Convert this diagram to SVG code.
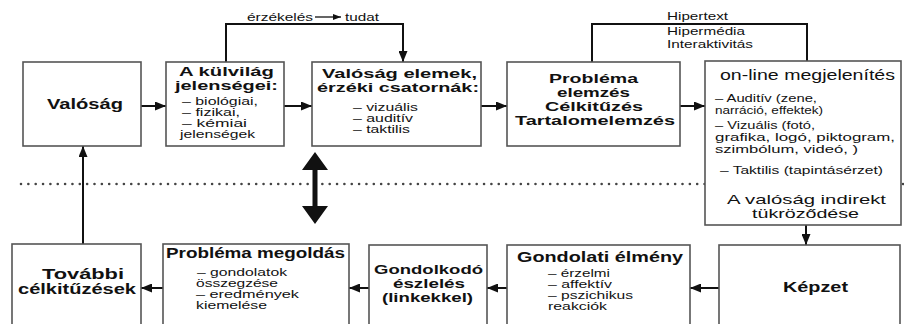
<svg xmlns="http://www.w3.org/2000/svg" width="904" height="324" viewBox="0 0 904 324">
<defs>
<marker id="ah" markerUnits="userSpaceOnUse" markerWidth="11" markerHeight="9" refX="11" refY="4.5" orient="auto">
<path d="M0,0 L11,4.5 L0,9 Z" fill="#111"/>
</marker>
<marker id="ahs" markerUnits="userSpaceOnUse" markerWidth="8" markerHeight="6" refX="8" refY="3" orient="auto">
<path d="M0,0 L8,3 L0,6 Z" fill="#111"/>
</marker>
</defs>
<style>
text{font-family:"Liberation Sans",Arial,sans-serif;fill:#111}
.b{font-weight:bold;font-size:13.5px}
.t{font-size:10.5px}
.s{font-size:10.5px}
.m{font-size:13.5px}
.box{fill:#fff;stroke:#555;stroke-width:1.6}
.c{fill:none;stroke:#111;stroke-width:2}
</style>
<rect width="904" height="324" fill="#fff"/>

<g id="connectors">
<line class="c" x1="141" y1="106" x2="166" y2="106" marker-end="url(#ah)"/>
<line class="c" x1="284" y1="106" x2="312" y2="106" marker-end="url(#ah)"/>
<line class="c" x1="481" y1="106" x2="507" y2="106" marker-end="url(#ah)"/>
<line class="c" x1="680" y1="106" x2="705" y2="106" marker-end="url(#ah)"/>
<path class="c" d="M226,62 V24 H403 V62" marker-end="url(#ah)"/>
<path class="c" d="M592,62 V24 H807 V61"/>
<line x1="315" y1="17" x2="341" y2="17" stroke="#111" stroke-width="1.3" marker-end="url(#ahs)"/>
<line class="c" x1="806" y1="225" x2="806" y2="245" marker-end="url(#ah)"/>
<line class="c" x1="719" y1="288" x2="690" y2="288" marker-end="url(#ah)"/>
<line class="c" x1="507" y1="288" x2="487" y2="288" marker-end="url(#ah)"/>
<line class="c" x1="369" y1="288" x2="349" y2="288" marker-end="url(#ah)"/>
<line class="c" x1="163" y1="288" x2="141" y2="288" marker-end="url(#ah)"/>
<line class="c" x1="83" y1="244" x2="83" y2="146" marker-end="url(#ah)"/>
<line x1="21" y1="184" x2="904" y2="184" stroke="#444" stroke-width="2.6" stroke-linecap="round" stroke-dasharray="0 7.35"/>
<polygon points="315,152 328,170 317.5,170 317.5,206 328,206 315,224 302,206 312.5,206 312.5,170 302,170" fill="#111"/>
</g>

<g id="labels">
<text class="s" x="247" y="21" textLength="66" lengthAdjust="spacingAndGlyphs">érzékelés</text>
<text class="s" x="345" y="21" textLength="34" lengthAdjust="spacingAndGlyphs">tudat</text>
<text class="s" x="667" y="20" textLength="61" lengthAdjust="spacingAndGlyphs">Hipertext</text>
<text class="s" x="667" y="35" textLength="78" lengthAdjust="spacingAndGlyphs">Hipermédia</text>
<text class="s" x="667" y="48" textLength="86" lengthAdjust="spacingAndGlyphs">Interaktivitás</text>
</g>

<g id="valosag">
<rect class="box" x="23" y="62" width="118" height="84"/>
<text class="b" x="47" y="109" textLength="76" lengthAdjust="spacingAndGlyphs" style="font-size:15px">Valóság</text>
</g>

<g id="kulvilag">
<rect class="box" x="166" y="62" width="118" height="84"/>
<text class="b" x="179" y="76" textLength="95" lengthAdjust="spacingAndGlyphs" style="font-size:13px">A külvilág</text>
<text class="b" x="175" y="90" textLength="103" lengthAdjust="spacingAndGlyphs" style="font-size:13px">jelenségei:</text>
<text class="t" x="182" y="105" textLength="76" lengthAdjust="spacingAndGlyphs">– biológiai,</text>
<text class="t" x="182" y="116" textLength="58" lengthAdjust="spacingAndGlyphs">– fizikai,</text>
<text class="t" x="182" y="127" textLength="65" lengthAdjust="spacingAndGlyphs">– kémiai</text>
<text class="t" x="180" y="138" textLength="75" lengthAdjust="spacingAndGlyphs">jelenségek</text>
</g>

<g id="valosag-elemek">
<rect class="box" x="312" y="62" width="169" height="84"/>
<text class="b" x="322" y="78" textLength="155" lengthAdjust="spacingAndGlyphs">Valóság elemek,</text>
<text class="b" x="317" y="92" textLength="162" lengthAdjust="spacingAndGlyphs">érzéki csatornák:</text>
<text class="t" x="353" y="111" textLength="65" lengthAdjust="spacingAndGlyphs">– vizuális</text>
<text class="t" x="353" y="122" textLength="60" lengthAdjust="spacingAndGlyphs">– auditív</text>
<text class="t" x="353" y="133" textLength="57" lengthAdjust="spacingAndGlyphs">– taktilis</text>
</g>

<g id="problema">
<rect class="box" x="507" y="62" width="173" height="84"/>
<text class="b" x="549" y="83" textLength="89" lengthAdjust="spacingAndGlyphs">Probléma</text>
<text class="b" x="557" y="97" textLength="73" lengthAdjust="spacingAndGlyphs">elemzés</text>
<text class="b" x="545" y="111" textLength="98" lengthAdjust="spacingAndGlyphs">Célkitűzés</text>
<text class="b" x="515" y="125" textLength="160" lengthAdjust="spacingAndGlyphs">Tartalomelemzés</text>
</g>

<g id="online">
<rect class="box" x="705" y="61" width="196" height="164"/>
<text class="m" x="720" y="80" textLength="175" lengthAdjust="spacingAndGlyphs" style="font-size:15.5px">on-line megjelenítés</text>
<text class="t" x="715" y="102" textLength="102" lengthAdjust="spacingAndGlyphs">– Auditív (zene,</text>
<text class="t" x="715" y="114" textLength="108" lengthAdjust="spacingAndGlyphs">narráció, effektek)</text>
<text class="t" x="715" y="129" textLength="100" lengthAdjust="spacingAndGlyphs">– Vizuális (fotó,</text>
<text class="t" x="715" y="141" textLength="180" lengthAdjust="spacingAndGlyphs">grafika, logó, piktogram,</text>
<text class="t" x="715" y="153" textLength="143" lengthAdjust="spacingAndGlyphs">szimbólum, videó,  )</text>
<text class="t" x="720" y="174" textLength="163" lengthAdjust="spacingAndGlyphs">– Taktilis (tapintásérzet)</text>
<text class="m" x="727" y="204" textLength="159" lengthAdjust="spacingAndGlyphs">A valóság indirekt</text>
<text class="m" x="752" y="218" textLength="107" lengthAdjust="spacingAndGlyphs">tükröződése</text>
</g>

<g id="kepzet">
<rect class="box" x="719" y="245" width="181" height="85"/>
<text class="b" x="783" y="292" textLength="65" lengthAdjust="spacingAndGlyphs" style="font-size:15px">Képzet</text>
</g>

<g id="gondolati">
<rect class="box" x="507" y="245" width="183" height="85"/>
<text class="b" x="517" y="262" textLength="166" lengthAdjust="spacingAndGlyphs" style="font-size:15px">Gondolati élmény</text>
<text class="t" x="548" y="277" textLength="62" lengthAdjust="spacingAndGlyphs">– érzelmi</text>
<text class="t" x="548" y="288" textLength="64" lengthAdjust="spacingAndGlyphs">– affektív</text>
<text class="t" x="548" y="299" textLength="85" lengthAdjust="spacingAndGlyphs">– pszichikus</text>
<text class="t" x="548" y="310" textLength="59" lengthAdjust="spacingAndGlyphs">reakciók</text>
</g>

<g id="gondolkodo">
<rect class="box" x="369" y="245" width="118" height="85"/>
<text class="b" x="374" y="274" textLength="109" lengthAdjust="spacingAndGlyphs">Gondolkodó</text>
<text class="b" x="393" y="288" textLength="72" lengthAdjust="spacingAndGlyphs">észlelés</text>
<text class="b" x="382" y="302" textLength="91" lengthAdjust="spacingAndGlyphs">(linkekkel)</text>
</g>

<g id="problema-megoldas">
<rect class="box" x="163" y="244" width="186" height="86"/>
<text class="b" x="166" y="258" textLength="179" lengthAdjust="spacingAndGlyphs" style="font-size:14px">Probléma megoldás</text>
<text class="t" x="197" y="276" textLength="90" lengthAdjust="spacingAndGlyphs">– gondolatok</text>
<text class="t" x="196" y="287" textLength="82" lengthAdjust="spacingAndGlyphs">összegzése</text>
<text class="t" x="196" y="298" textLength="103" lengthAdjust="spacingAndGlyphs">–  eredmények</text>
<text class="t" x="196" y="309" textLength="71" lengthAdjust="spacingAndGlyphs">kiemelése</text>
</g>

<g id="tovabbi">
<rect class="box" x="12" y="244" width="129" height="86"/>
<text class="b" x="42" y="279" textLength="82" lengthAdjust="spacingAndGlyphs" style="font-size:14px">További</text>
<text class="b" x="18" y="294" textLength="118" lengthAdjust="spacingAndGlyphs" style="font-size:14px">célkitűzések</text>
</g>
</svg>
